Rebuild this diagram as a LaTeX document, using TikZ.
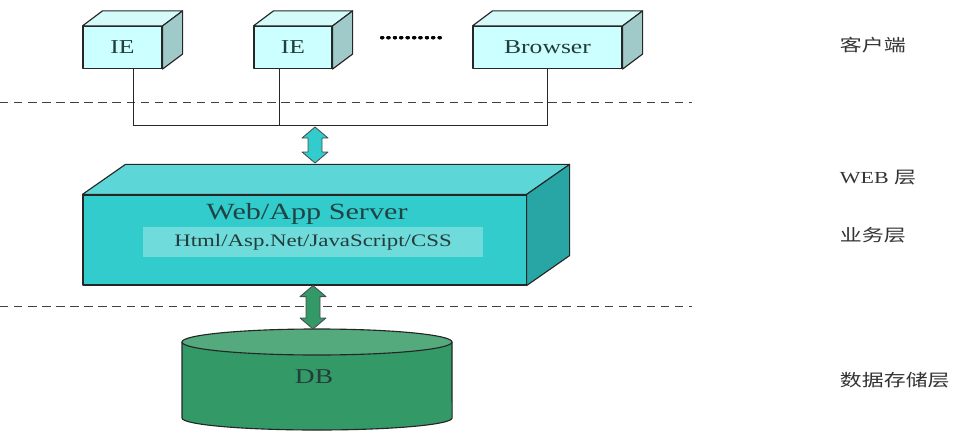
\documentclass[tikz,border=0pt]{standalone}
\usepackage{fontspec}
\setmainfont{Liberation Serif}[FakeStretch=1.3]
\newfontfamily\cjk{Noto Sans CJK SC}[FakeStretch=1.3]
\usetikzlibrary{calc}

\definecolor{clientfront}{RGB}{204,255,255}
\definecolor{clienttop}{RGB}{212,250,250}
\definecolor{clientside}{RGB}{160,202,202}
\definecolor{srvfront}{RGB}{51,204,204}
\definecolor{srvtopc}{RGB}{92,214,214}
\definecolor{srvside}{RGB}{40,165,165}
\definecolor{dbbody}{RGB}{51,153,102}
\definecolor{dbtopc}{RGB}{84,170,124}
\definecolor{textdark}{RGB}{35,60,60}

\tikzset{
  face/.style={draw=black!85, line width=0.8pt, line join=round},
  client/.style={face, fill=clientfront, minimum height=1.05cm, inner sep=0pt,
    font=\fontsize{14}{16}\selectfont, text=textdark},
  layer/.style={anchor=west, text=black!80, font=\fontsize{12}{14}\selectfont},
  tierline/.style={dashed, dash pattern=on 6pt off 4pt, black!75, line width=0.6pt},
  bus/.style={black!85, line width=0.7pt},
}

% top and side faces of a box: #1 node, #2 depth, #3 top colour, #4 side colour
\newcommand{\boxfaces}[4]{%
  \filldraw[face, fill=#3] (#1.north west) -- ($(#1.north west)+#2$)
    -- ($(#1.north east)+#2$) -- (#1.north east) -- cycle;
  \filldraw[face, fill=#4] (#1.north east) -- ($(#1.north east)+#2$)
    -- ($(#1.south east)+#2$) -- (#1.south east) -- cycle;}

% vertical fat double arrow: #1 top, #2 bottom, #3 colour
\newcommand{\fatarrow}[3]{%
  \filldraw[fill=#3, draw=black!70, line width=0.6pt, line join=round]
    (#1) -- ($(#1)+(13,11)$) -- ($(#1)+(7,11)$) -- ($(#2)+(7,-11)$)
    -- ($(#2)+(13,-11)$) -- (#2) -- ($(#2)+(-13,-11)$) -- ($(#2)+(-7,-11)$)
    -- ($(#1)+(-7,11)$) -- ($(#1)+(-13,11)$) -- cycle;}

\begin{document}
\begin{tikzpicture}[x=0.025cm, y=-0.025cm]

\useasboundingbox (0,0) rectangle (978,434);

% Tier separators
\draw[tierline] (0,102) -- (692,102);
\draw[tierline] (0,306) -- (692,306);

% Clients
\node[client, minimum width=1.975cm] (ie1) at (122.5,47.5) {IE};
\node[client, minimum width=1.95cm] (ie2) at (293,47.5) {IE};
\node[client, minimum width=3.725cm] (browser) at (547.5,47.5) {Browser};
\foreach \c in {ie1,ie2,browser}
  \boxfaces{\c}{(20,-15)}{clienttop}{clientside}
\node[font=\fontsize{14}{16}\selectfont\bfseries] (dots) at (411,38) {..........};

% Bus between the clients
\coordinate (b1) at (133,125);
\coordinate (b2) at (279,125);
\coordinate (b3) at (547,125);
\coordinate (busmid) at (315,127);
\draw[bus] (ie1.south -| b1) -- (b1) -- (b3) -- (browser.south -| b3);
\draw[bus] (ie2.south -| b2) -- (b2);

% Web/App server
\node[face, fill=srvfront, minimum width=11.075cm, minimum height=2.25cm, inner sep=0pt]
  (srv) at (304.5,240) {};
\boxfaces{srv}{(43,-30)}{srvtopc}{srvside}
\coordinate (srvback) at (315,163);
\node[text=textdark!90!teal, font=\fontsize{16.5}{18}\selectfont] (title) at (307,214) {Web/App Server};
\node[fill=white, fill opacity=0.3, text opacity=1, text=textdark, inner sep=0pt,
  minimum width=8.5cm, minimum height=0.75cm, font=\fontsize{12.5}{14}\selectfont]
  (tech) at (313,242) {Html/Asp.Net/JavaScript/CSS};

% Database
\fill[dbbody] (182,342) -- (182,418) arc[start angle=180, end angle=360, x radius=3.375cm, y radius=0.3cm]
  -- (452,342) -- cycle;
\draw[face] (182,342) -- (182,418) arc[start angle=180, end angle=360, x radius=3.375cm, y radius=0.3cm]
  -- (452,342);
\filldraw[face, fill=dbtopc] (317,342) ellipse [x radius=3.375cm, y radius=0.325cm];
\coordinate (dbtop) at (313,329);
\node[text=textdark, font=\fontsize{15}{17}\selectfont] (db) at (314,377) {DB};

% Arrows between the tiers
\fatarrow{busmid}{srvback}{srvfront}
\fatarrow{dbtop |- srv.south}{dbtop}{dbbody}

% Layer labels
\node[layer] (lclient) at (835,45) {\cjk 客户端};
\node[layer] (lweb) at (835,178) {WEB {\cjk 层}};
\node[layer] (lbiz) at (835,235) {\cjk 业务层};
\node[layer] (ldata) at (835,380) {\cjk 数据存储层};

\end{tikzpicture}
\end{document}
